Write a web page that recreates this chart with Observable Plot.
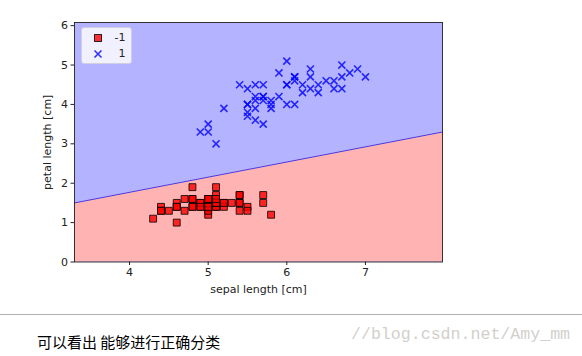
<!DOCTYPE html>
<html>
<head>
<meta charset="utf-8">
<script src="https://cdn.jsdelivr.net/npm/d3@7"></script>
<script src="https://cdn.jsdelivr.net/npm/@observablehq/plot@0.6"></script>
<style>
  html, body { margin: 0; padding: 0; background: #fff; }
  #wrap { position: relative; width: 582px; height: 356px; overflow: hidden; }
  #legend { position: absolute; left: 80.5px; top: 26.5px; width: 49px; height: 35.5px;
    background: rgba(255,255,255,0.8); border: 1px solid #cfcfdf; border-radius: 3px;
    font-family: "DejaVu Sans", sans-serif; font-size: 11px; color: #222; }
  #legend .row { position: absolute; left: 0; height: 12px; line-height: 12px; }
  #legend svg { position: absolute; left: 10px; top: 0px; }
  #legend span { position: absolute; white-space: nowrap; }
  #rule { position: absolute; left: 0; top: 314px; width: 582px; height: 0; border-top: 1.5px solid #b0b0b0; }
  #note { position: absolute; left: 37px; top: 333px; font-family: "Noto Sans CJK SC", sans-serif;
    font-size: 15px; line-height: 17px; color: #000; white-space: nowrap; }
  #mark { position: absolute; left: 351px; top: 326px; font-family: "Liberation Mono", monospace;
    font-size: 16.6px; line-height: 18px; color: #d2d0cc; white-space: nowrap; }
</style>
</head>
<body>
<div id="wrap"></div>
<script>
// Iris samples (first 100): sepal length / petal length
const setosaSepal = [5.1,4.9,4.7,4.6,5.0,5.4,4.6,5.0,4.4,4.9,5.4,4.8,4.8,4.3,5.8,5.7,5.4,5.1,5.7,5.1,5.4,5.1,4.6,5.1,4.8,5.0,5.0,5.2,5.2,4.7,4.8,5.4,5.2,5.5,4.9,5.0,5.5,4.9,4.4,5.1,5.0,4.5,4.4,5.0,5.1,4.8,5.1,4.6,5.3,5.0];
const setosaPetal = [1.4,1.4,1.3,1.5,1.4,1.7,1.4,1.5,1.4,1.5,1.5,1.6,1.4,1.1,1.2,1.5,1.3,1.4,1.7,1.5,1.7,1.5,1.0,1.7,1.9,1.6,1.6,1.5,1.4,1.6,1.6,1.5,1.5,1.4,1.5,1.2,1.3,1.4,1.3,1.5,1.3,1.3,1.3,1.6,1.9,1.4,1.6,1.4,1.5,1.4];
const versiSepal = [7.0,6.4,6.9,5.5,6.5,5.7,6.3,4.9,6.6,5.2,5.0,5.9,6.0,6.1,5.6,6.7,5.6,5.8,6.2,5.6,5.9,6.1,6.3,6.1,6.4,6.6,6.8,6.7,6.0,5.7,5.5,5.5,5.8,6.0,5.4,6.0,6.7,6.3,5.6,5.5,5.5,6.1,5.8,5.0,5.6,5.7,5.7,6.2,5.1,5.7];
const versiPetal = [4.7,4.5,4.9,4.0,4.6,4.5,4.7,3.3,4.6,3.9,3.5,4.2,4.0,4.7,3.6,4.4,4.5,4.1,4.5,3.9,4.8,4.0,4.9,4.7,4.3,4.4,4.8,5.0,4.5,3.5,3.8,3.7,3.9,5.1,4.5,4.5,4.7,4.4,4.1,4.0,4.4,4.6,4.0,3.3,4.2,4.2,4.2,4.3,3.0,4.1];
// decision boundary
const boundarySepal = [3.3, 7.98];
const boundaryPetal = [1.5, 3.3];
const xTicks = [4, 5, 6, 7];
const yTicks = [0, 1, 2, 3, 4, 5, 6];
const xDomain = [3.3, 7.98];
const yDomain = [0, 6.08];
const classLabels = ["-1", "1"];

const setosa = setosaSepal.map((s, i) => ({sepal: s, petal: setosaPetal[i]}));
const versi = versiSepal.map((s, i) => ({sepal: s, petal: versiPetal[i]}));
const boundary = boundarySepal.map((s, i) => ({sepal: s, petal: boundaryPetal[i]}));

const plot = Plot.plot({
  width: 582, height: 305,
  marginLeft: 74, marginRight: 140, marginTop: 22, marginBottom: 43.5,
  x: {domain: xDomain},
  y: {domain: yDomain},
  style: {fontFamily: "DejaVu Sans, sans-serif", fontSize: "11px", color: "#222", background: "transparent"},
  marks: [
    Plot.frame({fill: "#b3b3ff", stroke: null}),
    Plot.areaY(boundary, {x: "sepal", y1: 0, y2: "petal", fill: "#ffb3b3"}),
    Plot.line(boundary, {x: "sepal", y: "petal", stroke: "#3b3bf0", strokeWidth: 1}),
    Plot.dot(setosa, {x: "sepal", y: "petal", symbol: "square", r: 3.9, fill: "red", fillOpacity: 0.8, stroke: "black", strokeOpacity: 0.8, strokeWidth: 1}),
    Plot.dot(versi, {x: "sepal", y: "petal", symbol: "times", r: 3.3, stroke: "blue", strokeOpacity: 0.8, strokeWidth: 1.6}),
    Plot.frame({stroke: "#222", strokeWidth: 0.9}),
    Plot.axisX({ticks: xTicks, tickFormat: d => String(d), tickSize: 3.5, tickPadding: 3, label: null, stroke: "#222", fontSize: 11}),
    Plot.axisY({ticks: yTicks, tickFormat: d => String(d), tickSize: 3.5, tickPadding: 3, label: null, stroke: "#222", fontSize: 11}),
    Plot.text(["sepal length [cm]"], {frameAnchor: "bottom", dy: 27, lineAnchor: "middle", textAnchor: "middle", fill: "#222", fontSize: 11}),
    Plot.text(["petal length [cm]"], {frameAnchor: "left", dx: -27.5, rotate: -90, lineAnchor: "middle", textAnchor: "middle", fill: "#222", fontSize: 11})
  ]
});

const wrap = document.getElementById("wrap");
wrap.appendChild(plot);

// legend
const legend = document.createElement("div");
legend.id = "legend";
legend.innerHTML = `
  <div class="row" style="top:4.5px;width:49px">
    <svg width="12" height="12"><rect x="2.5" y="2.5" width="7" height="7" fill="red" fill-opacity="0.8" stroke="black" stroke-opacity="0.8" stroke-width="1"/></svg>
    <span style="left:33px">${classLabels[0]}</span>
  </div>
  <div class="row" style="top:20.5px;width:49px">
    <svg width="12" height="12"><path d="M2.5,2.5L9.5,9.5M2.5,9.5L9.5,2.5" stroke="blue" stroke-opacity="0.8" stroke-width="1.6"/></svg>
    <span style="left:37px">${classLabels[1]}</span>
  </div>`;
wrap.appendChild(legend);

const rule = document.createElement("div"); rule.id = "rule"; wrap.appendChild(rule);
const note = document.createElement("div"); note.id = "note"; note.textContent = "可以看出 能够进行正确分类"; wrap.appendChild(note);
const mark = document.createElement("div"); mark.id = "mark"; mark.textContent = "//blog.csdn.net/Amy_mm"; wrap.appendChild(mark);
plot.style.position = "absolute"; plot.style.left = "0"; plot.style.top = "0";
</script>
</body>
</html>
